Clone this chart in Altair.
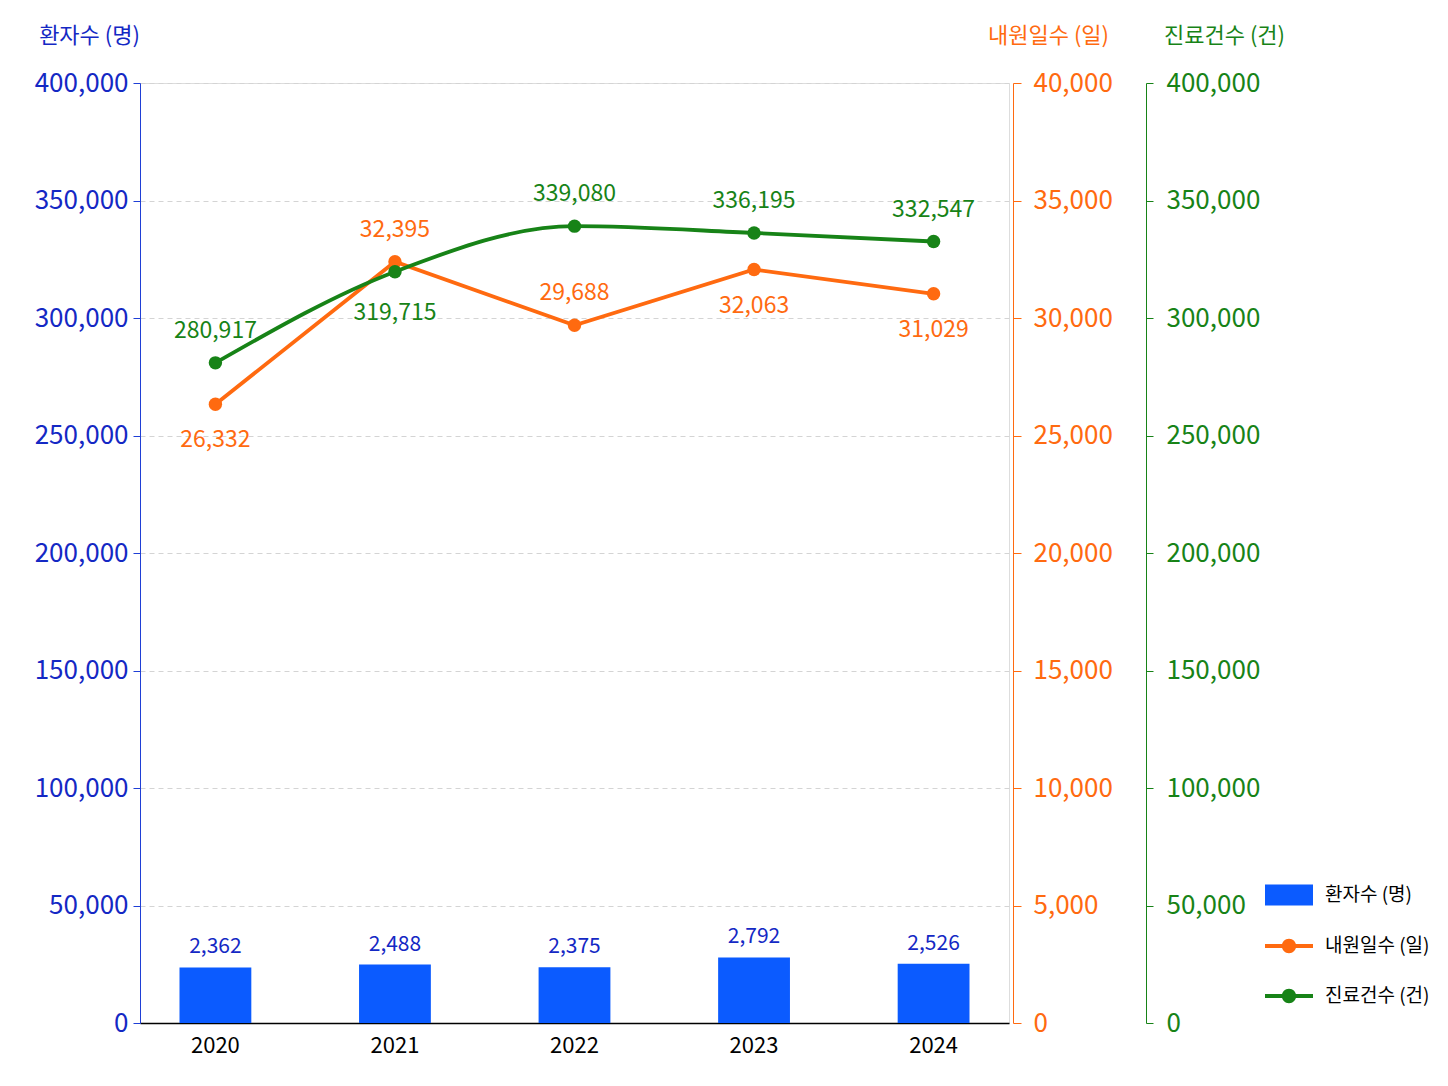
import altair as alt
import pandas as pd

years = ["2020", "2021", "2022", "2023", "2024"]
patients = [2362, 2488, 2375, 2792, 2526]          # 환자수 (명)
visit_days = [26332, 32395, 29688, 32063, 31029]   # 내원일수 (일)
treatments = [280917, 319715, 339080, 336195, 332547]  # 진료건수 (건)
visit_label_side = ["below", "above", "above", "below", "below"]
treat_label_side = ["above", "below", "above", "above", "above"]

series_names = ["환자수 (명)", "내원일수 (일)", "진료건수 (건)"]
left_ticks = [0, 50000, 100000, 150000, 200000, 250000, 300000, 350000, 400000]
mid_ticks = [0, 5000, 10000, 15000, 20000, 25000, 30000, 35000, 40000]
right_ticks = [0, 50000, 100000, 150000, 200000, 250000, 300000, 350000, 400000]

df = pd.DataFrame({
    "year": years,
    "patients": patients,
    "visits": visit_days,
    "treatments": treatments,
    "vside": visit_label_side,
    "tside": treat_label_side,
})
df_leg = pd.DataFrame({"series": series_names})

FONT = "Noto Sans CJK KR"
BLUE_BAR = "#0b5bff"
BLUE_TXT = "#1428c4"
ORANGE = "#ff6a10"
GREEN = "#178317"
NUMFMT = ",.0f"

x_enc = alt.X(
    "year:N",
    title=None,
    scale=alt.Scale(paddingInner=0.6, paddingOuter=0.22),
    axis=alt.Axis(labelAngle=0, domainColor="black", domainWidth=1.5, ticks=False,
                  labelColor="black", labelFontSize=22, labelFont=FONT, labelPadding=12),
)

base = alt.Chart(df)

# left (blue) axis, 0-400,000 range
left_axis_layer = base.mark_point(opacity=0).encode(
    x=x_enc,
    y=alt.Y("treatments:Q", scale=alt.Scale(domain=[0, 400000]),
            axis=alt.Axis(orient="left", title="환자수 (명)", titleAngle=0, titleX=-51, titleY=-48,
                          titleAlign="center", titleBaseline="middle", titleColor=BLUE_TXT,
                          titleFontSize=22, titleFont=FONT, titleFontWeight="normal",
                          values=left_ticks, format=NUMFMT, labelColor=BLUE_TXT, labelFontSize=26,
                          labelFont=FONT, labelPadding=5, domainColor="#1f3fd6", tickColor="#1f3fd6",
                          tickSize=7, grid=True, gridColor="#d4d4d4", gridDash=[5, 4], gridWidth=1)),
)

bars = base.mark_bar(color=BLUE_BAR).encode(
    x=x_enc,
    y=alt.Y("patients:Q", scale=alt.Scale(domain=[0, 40000]), axis=None),
)
bar_text = base.mark_text(dy=-20, fontSize=21, color=BLUE_TXT, font=FONT, baseline="middle").encode(
    x=x_enc,
    y=alt.Y("patients:Q", axis=None),
    text=alt.Text("patients:Q", format=","),
)
bar_layer = alt.layer(bars, bar_text)

orange_axis = alt.Axis(orient="right", offset=4, title="내원일수 (일)", titleAngle=0, titleX=35, titleY=-48,
                       titleAlign="center", titleBaseline="middle", titleColor=ORANGE,
                       titleFontSize=22, titleFont=FONT, titleFontWeight="normal",
                       values=mid_ticks, format=NUMFMT, labelColor=ORANGE, labelFontSize=26,
                       labelFont=FONT, labelPadding=12, domainColor=ORANGE, tickColor=ORANGE,
                       tickSize=8, grid=False)
o_y = alt.Y("visits:Q", scale=alt.Scale(domain=[0, 40000]), axis=orange_axis)
o_line = base.mark_line(color=ORANGE, strokeWidth=3.8).encode(x=x_enc, y=o_y)
o_pts = base.mark_circle(color=ORANGE, size=180, opacity=1).encode(x=x_enc, y=o_y)
o_txt_a = base.transform_filter(alt.datum.vside == "above").mark_text(
    dy=-32, fontSize=23, color=ORANGE, font=FONT, baseline="middle").encode(
    x=x_enc, y=o_y, text=alt.Text("visits:Q", format=","))
o_txt_b = base.transform_filter(alt.datum.vside == "below").mark_text(
    dy=36, fontSize=23, color=ORANGE, font=FONT, baseline="middle").encode(
    x=x_enc, y=o_y, text=alt.Text("visits:Q", format=","))
orange_layer = alt.layer(o_line, o_pts, o_txt_a, o_txt_b)

green_axis = alt.Axis(orient="right", offset=137, title="진료건수 (건)", titleAngle=0, titleX=78, titleY=-48,
                      titleAlign="center", titleBaseline="middle", titleColor=GREEN,
                      titleFontSize=22, titleFont=FONT, titleFontWeight="normal",
                      values=right_ticks, format=NUMFMT, labelColor=GREEN, labelFontSize=26,
                      labelFont=FONT, labelPadding=13, domainColor=GREEN, tickColor=GREEN,
                      tickSize=7, grid=False)
g_y = alt.Y("treatments:Q", scale=alt.Scale(domain=[0, 400000]), axis=green_axis)
g_line = base.mark_line(color=GREEN, strokeWidth=3.8, interpolate="monotone").encode(x=x_enc, y=g_y)
g_pts = base.mark_circle(color=GREEN, size=180, opacity=1).encode(x=x_enc, y=g_y)
g_txt_a = base.transform_filter(alt.datum.tside == "above").mark_text(
    dy=-32, fontSize=23, color=GREEN, font=FONT, baseline="middle").encode(
    x=x_enc, y=g_y, text=alt.Text("treatments:Q", format=","))
g_txt_b = base.transform_filter(alt.datum.tside == "below").mark_text(
    dy=41, fontSize=23, color=GREEN, font=FONT, baseline="middle").encode(
    x=x_enc, y=g_y, text=alt.Text("treatments:Q", format=","))
green_layer = alt.layer(g_line, g_pts, g_txt_a, g_txt_b)

rect_path = "M-1,-0.44H1V0.44H-1Z"
line_path = "M-1,-0.08H1V0.08H-1Z M0.3,0A0.3,0.3 0 1 1 -0.3,0A0.3,0.3 0 1 1 0.3,0Z"
leg_def = alt.Legend(title=None, orient="none", legendX=1125, legendY=788, symbolSize=2304,
                     symbolOpacity=1, symbolStrokeWidth=0, labelFontSize=19, labelColor="black",
                     labelFont=FONT, labelOffset=12, rowPadding=16)
legend_layer = alt.Chart(df_leg).mark_point(filled=True, opacity=0).encode(
    color=alt.Color("series:N", scale=alt.Scale(domain=series_names, range=[BLUE_BAR, ORANGE, GREEN]),
                    legend=leg_def),
    shape=alt.Shape("series:N", scale=alt.Scale(domain=series_names, range=[rect_path, line_path, line_path]),
                    legend=leg_def),
)

chart = alt.layer(left_axis_layer, bar_layer, orange_layer, green_layer, legend_layer).resolve_scale(
    y="independent"
).properties(
    width=869, height=940,
    padding={"left": 26, "top": 16, "right": 10, "bottom": 10},
).configure_view(stroke=None).configure(background="white")

chart.save("out.html", embed_options={"renderer": "svg", "actions": False})
